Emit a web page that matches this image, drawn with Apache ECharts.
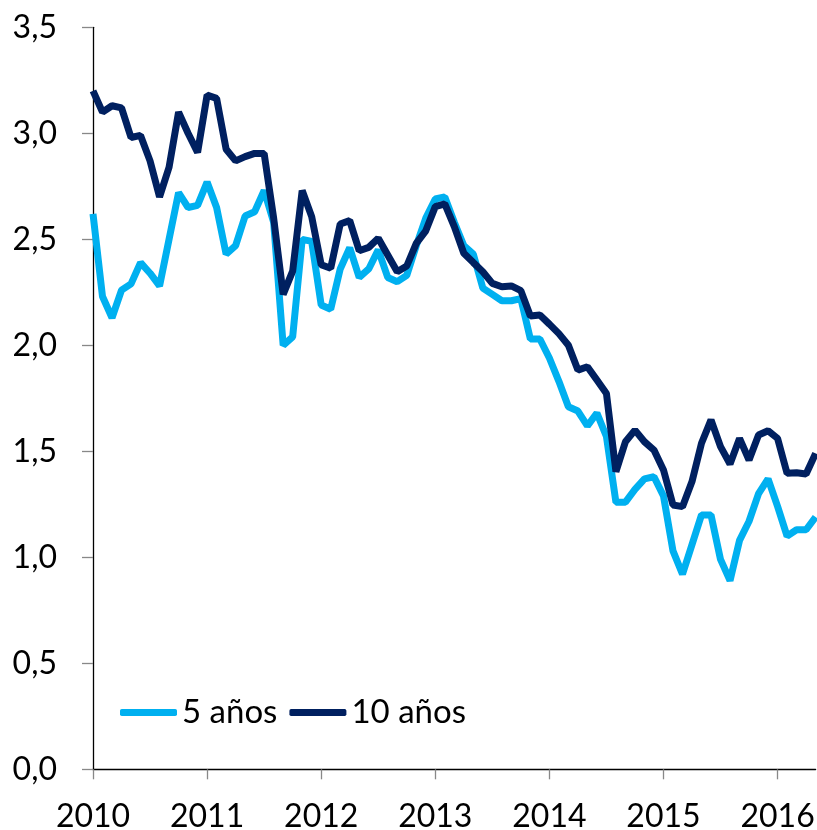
<!DOCTYPE html>
<html>
<head>
<meta charset="utf-8">
<script src="https://cdn.jsdelivr.net/npm/echarts@6/dist/echarts.min.js"></script>
<style>
  html, body { margin: 0; padding: 0; background: #fff; }
  #chart { width: 817px; height: 830px; }
</style>
</head>
<body>
<div id="chart"></div>
<script>
// Tick labels (years) and monthly categories
var years = ['2010', '2011', '2012', '2013', '2014', '2015', '2016'];
var monthsInLast = 5; // data through May 2016

// Series values (monthly, Jan 2010 - May 2016)
var seriesNames = ['5 años', '10 años'];
var fiveYears = [
  2.62, 2.23, 2.13, 2.26, 2.29, 2.39, 2.34, 2.28, 2.50, 2.72,
  2.65, 2.66, 2.77, 2.65, 2.43, 2.47, 2.61, 2.63, 2.73, 2.58,
  2.00, 2.04, 2.50, 2.49, 2.19, 2.17, 2.36, 2.46, 2.32, 2.36,
  2.45, 2.32, 2.30, 2.33, 2.47, 2.60, 2.69, 2.70, 2.58, 2.47,
  2.43, 2.27, 2.24, 2.21, 2.21, 2.22, 2.03, 2.03, 1.94, 1.83,
  1.71, 1.69, 1.62, 1.68, 1.57, 1.26, 1.26, 1.32, 1.37, 1.38,
  1.29, 1.03, 0.92, 1.06, 1.20, 1.20, 0.99, 0.89, 1.08, 1.17,
  1.30, 1.37, 1.24, 1.10, 1.13, 1.13, 1.19
];
var tenYears = [
  3.20, 3.10, 3.13, 3.12, 2.98, 2.99, 2.87, 2.70, 2.84, 3.10,
  3.00, 2.91, 3.18, 3.165, 2.925, 2.87, 2.89, 2.905, 2.905, 2.60,
  2.24, 2.35, 2.73, 2.607, 2.38, 2.363, 2.572, 2.588, 2.446, 2.462,
  2.505, 2.426, 2.347, 2.374, 2.481, 2.54, 2.654, 2.667, 2.56, 2.434,
  2.39, 2.347, 2.292, 2.276, 2.28, 2.258, 2.138, 2.143, 2.10, 2.055,
  2.00, 1.883, 1.899, 1.836, 1.773, 1.404, 1.545, 1.60, 1.545, 1.506,
  1.412, 1.247, 1.239, 1.357, 1.538, 1.648, 1.522, 1.44, 1.561, 1.459,
  1.577, 1.597, 1.561, 1.396, 1.399, 1.393, 1.49
];

var categories = [];
years.forEach(function (y, yi) {
  var n = (yi === years.length - 1) ? monthsInLast : 12;
  for (var m = 1; m <= n; m++) {
    categories.push(y + '-' + (m < 10 ? '0' + m : m));
  }
});

var FONT = 'Lato';
var chart = echarts.init(document.getElementById('chart'));
chart.setOption({
  animation: false,
  backgroundColor: '#ffffff',
  grid: { left: 93, right: 1.4, top: 27.3, bottom: 60.7, containLabel: false, outerBoundsMode: 'none' },
  legend: {
    left: 115,
    top: 691,
    itemWidth: 57,
    itemHeight: 7,
    itemGap: 12,
    icon: 'roundRect',
    textStyle: { fontFamily: FONT, fontSize: 33, color: '#000' },
    data: seriesNames
  },
  xAxis: {
    type: 'category',
    data: categories,
    boundaryGap: false,
    axisLine: { lineStyle: { color: '#000', width: 1.3 } },
    axisTick: {
      show: true,
      length: 10,
      interval: function (i) { return i % 12 === 0; },
      lineStyle: { color: '#888', width: 1.3 }
    },
    axisLabel: {
      interval: function (i) { return i % 12 === 0; },
      formatter: function (v) { return v.slice(0, 4); },
      fontFamily: FONT,
      fontSize: 32,
      color: '#000',
      margin: 31
    },
    splitLine: { show: false }
  },
  yAxis: {
    type: 'value',
    min: 0,
    max: 3.5,
    interval: 0.5,
    axisLine: { show: true, lineStyle: { color: '#000', width: 1.3 } },
    axisTick: { show: true, length: 11, lineStyle: { color: '#888', width: 1.3 } },
    axisLabel: {
      formatter: function (v) { return v.toFixed(1).replace('.', ','); },
      fontFamily: FONT,
      fontSize: 32,
      color: '#000',
      margin: 36
    },
    splitLine: { show: false }
  },
  series: [
    {
      name: seriesNames[0],
      type: 'line',
      data: fiveYears,
      showSymbol: false,
      symbol: 'none',
      color: '#00B0F0',
      lineStyle: { width: 7, color: '#00B0F0' }
    },
    {
      name: seriesNames[1],
      type: 'line',
      data: tenYears,
      showSymbol: false,
      symbol: 'none',
      color: '#002060',
      lineStyle: { width: 7, color: '#002060' }
    }
  ]
});
</script>
</body>
</html>
